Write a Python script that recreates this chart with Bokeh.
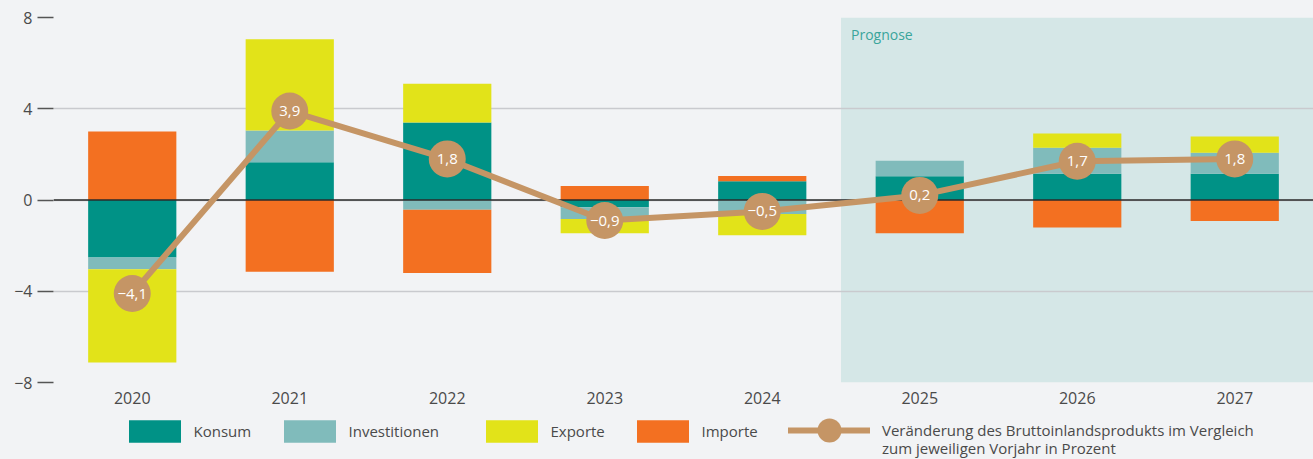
from bokeh.plotting import figure
from bokeh.layouts import column
from bokeh.models import FixedTicker, BoxAnnotation, Span, Label, Legend, LegendItem, ColumnDataSource, Range1d
from bokeh.core.properties import value
from bokeh.embed import file_html
from bokeh.resources import INLINE
import numpy as np

# ---- data ----
years = ["2020", "2021", "2022", "2023", "2024", "2025", "2026", "2027"]
konsum = [-2.52, 1.65, 3.40, -0.32, 0.82, 1.04, 1.15, 1.15]
investitionen = [-0.52, 1.40, -0.43, -0.51, -0.61, 0.68, 1.14, 0.92]
exporte = [-4.08, 4.00, 1.70, -0.63, -0.93, 0.00, 0.63, 0.71]
importe = [3.00, -3.15, -2.77, 0.61, 0.23, -1.46, -1.20, -0.92]
bip = [-4.1, 3.9, 1.8, -0.9, -0.5, 0.2, 1.7, 1.8]
y_ticks = [-8, -4, 0, 4, 8]
prognose_start = "2025"

series_names = ["Konsum", "Investitionen", "Exporte", "Importe"]
series_vals = [konsum, investitionen, exporte, importe]
series_colors = ["#009286", "#80BBBB", "#E2E319", "#F37021"]
line_color = "#C59565"
bip_label = ["Veränderung des Bruttoinlandsprodukts im Vergleich", "zum jeweiligen Vorjahr in Prozent"]
FONT = "Open Sans"
TXT = "#4a4a4a"
BG = "#F2F3F5"

xs = np.arange(len(years))

p = figure(width=1313, height=410, x_range=(-0.5, len(years) - 0.5), y_range=(-8, 8),
           output_backend="svg", toolbar_location=None,
           min_border_left=53, min_border_right=0, min_border_top=17, min_border_bottom=28)
p.background_fill_color = BG
p.border_fill_color = BG
p.outline_line_color = None

# forecast shading
px = years.index(prognose_start) - 0.5
p.add_layout(BoxAnnotation(left=px, fill_color="#D5E7E7", fill_alpha=1.0, line_color=None, level="image"))
p.add_layout(Label(x=px, y=8, x_offset=10, y_offset=-7, text="Prognose", text_baseline="top",
                   text_font=FONT, text_font_size="14px", text_color="#3AA59B"))

# stacked bars
pos_base = np.zeros(len(years))
neg_base = np.zeros(len(years))
bar_sources = []
for name, vals, col in zip(series_names, series_vals, series_colors):
    v = np.array(vals, dtype=float)
    bottom = np.where(v >= 0, pos_base, neg_base)
    top = bottom + v
    pos_base = np.where(v >= 0, top, pos_base)
    neg_base = np.where(v < 0, top, neg_base)
    src = ColumnDataSource(dict(x=xs, bottom=bottom, top=top))
    bar_sources.append(src)
    p.vbar(x="x", bottom="bottom", top="top", width=0.56, source=src,
           fill_color=col, line_color=None)

p.add_layout(Span(location=0, dimension="width", line_color="#2A2A2A", line_width=1.5, level="annotation"))

# GDP line
lsrc = ColumnDataSource(dict(x=xs, y=bip,
                             lab=[f"{b:.1f}".replace(".", ",").replace("-", "\u2212") for b in bip]))
p.line("x", "y", source=lsrc, line_color=line_color, line_width=6, line_join="round", level="overlay")
p.scatter("x", "y", source=lsrc, size=37, fill_color=line_color, line_color=None, level="overlay")
p.text("x", "y", text="lab", source=lsrc, text_align="center", text_baseline="middle",
       text_color="white", text_font=value(FONT), text_font_size="15px", level="overlay")

# axes
p.xgrid.grid_line_color = None
p.ygrid.ticker = FixedTicker(ticks=y_ticks)
p.ygrid.grid_line_color = "#C9CACE"
p.ygrid.grid_line_width = 1.5

p.yaxis.ticker = FixedTicker(ticks=y_ticks)
p.yaxis.major_label_overrides = {t: str(t).replace("-", "\u2212") for t in y_ticks}
p.yaxis.axis_line_color = None
p.yaxis.major_tick_out = 16
p.yaxis.major_tick_in = 0
p.yaxis.major_tick_line_color = "#555555"
p.yaxis.major_tick_line_width = 1.5
p.yaxis.minor_tick_line_color = None
p.yaxis.major_label_standoff = 5

p.xaxis.ticker = FixedTicker(ticks=list(xs))
p.xaxis.major_label_overrides = {int(i): y for i, y in zip(xs, years)}
p.xaxis.axis_line_color = None
p.xaxis.major_tick_line_color = None
p.xaxis.minor_tick_line_color = None
p.xaxis.major_label_standoff = 3

for ax in (p.xaxis[0], p.yaxis[0]):
    ax.major_label_text_font = FONT
    ax.major_label_text_font_size = "16px"
    ax.major_label_text_color = TXT

# ---- legend strip (its renderers share the data but lie outside its view) ----
LH = 49
lf = figure(width=1313, height=LH, x_range=Range1d(100, 101), y_range=Range1d(100, 101),
            output_backend="svg", toolbar_location=None,
            x_axis_location=None, y_axis_location=None, min_border=0)
lf.background_fill_color = BG
lf.border_fill_color = BG
lf.outline_line_color = None
lf.xgrid.grid_line_color = None
lf.ygrid.grid_line_color = None

FRAME_LEFT = 53  # frames are aligned in the column

def make_legend(label, renderers, loc, gw, gh, standoff):
    leg = Legend(items=[LegendItem(label=label, renderers=renderers)], location=loc,
                 orientation="horizontal", glyph_width=gw, glyph_height=gh,
                 label_standoff=standoff, padding=0, margin=0, spacing=0,
                 border_line_alpha=0, background_fill_alpha=0,
                 label_text_font=FONT, label_text_font_size="15px", label_text_color=TXT)
    lf.add_layout(leg)

swatch_left = [128, 283, 485, 636]
for name, col, sx, src in zip(series_names, series_colors, swatch_left, bar_sources):
    r = lf.vbar(x="x", bottom="bottom", top="top", width=0.56, source=src, fill_color=col, line_color=None)
    make_legend(name, [r], (sx - 6.5 - FRAME_LEFT, 14), 65, 28, 7)

lr = lf.line("x", "y", source=lsrc, line_color=line_color, line_width=6, line_cap="round")
sr = lf.scatter("x", "y", source=lsrc, size=24, fill_color=line_color, line_color=None)
make_legend(bip_label[0], [lr, sr], (788 - FRAME_LEFT, -1), 82, 60, 12)
make_legend(bip_label[1], [lr], (882 - FRAME_LEFT, 1), 0, 1, 0)

layout = column(p, lf, styles={"background-color": BG})
open("out.html", "w").write(file_html(layout, INLINE))
